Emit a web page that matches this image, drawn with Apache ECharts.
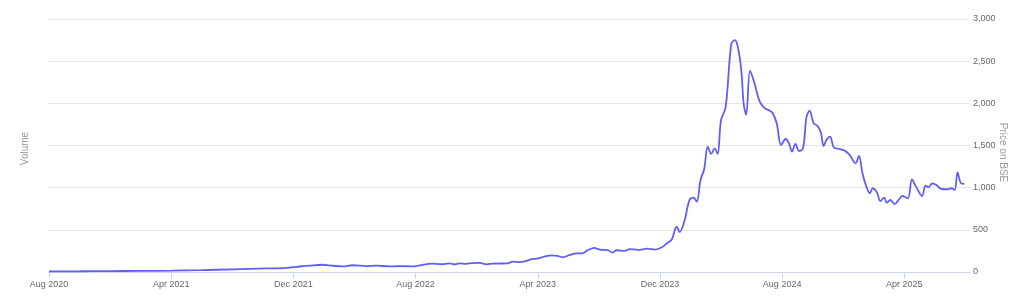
<!DOCTYPE html>
<html><head><meta charset="utf-8">
<script src="https://cdn.jsdelivr.net/npm/echarts@6/dist/echarts.min.js"></script>
<style>html,body{margin:0;padding:0;background:#fff}#c{width:1024px;height:299px}</style>
</head><body><div id="c"></div>
<script>
const dates = ["2020-08-01","2020-10-01","2020-12-01","2021-02-01","2021-04-01","2021-06-01","2021-08-01","2021-10-08","2021-11-18","2021-12-08",
"2022-01-03","2022-01-29","2022-02-18","2022-03-08","2022-03-28","2022-04-24","2022-05-15","2022-06-10","2022-07-06","2022-07-26",
"2022-08-09","2022-09-03","2022-09-22","2022-10-08","2022-10-18","2022-10-28","2022-11-11","2022-11-21","2022-12-07","2022-12-21",
"2023-01-03","2023-02-02","2023-02-11","2023-02-24","2023-03-08","2023-03-20","2023-03-30","2023-04-14","2023-04-28","2023-05-10",
"2023-05-20","2023-06-04","2023-06-17","2023-06-29","2023-07-09","2023-07-23","2023-08-03","2023-08-19","2023-08-29","2023-09-06",
"2023-09-22","2023-10-02","2023-10-18","2023-11-07","2023-11-21","2023-12-05","2023-12-15","2023-12-25","2024-01-04","2024-01-10",
"2024-01-20","2024-01-30","2024-02-07","2024-02-13","2024-02-20","2024-02-27","2024-03-05","2024-03-12","2024-03-19","2024-03-25",
"2024-04-01","2024-04-10","2024-04-21","2024-04-28","2024-05-04","2024-05-11","2024-05-16","2024-05-21","2024-05-29","2024-06-07",
"2024-06-17","2024-06-27","2024-07-07","2024-07-13","2024-07-21","2024-07-30","2024-08-08","2024-08-15","2024-08-21","2024-08-28",
"2024-09-04","2024-09-12","2024-09-19","2024-09-25","2024-10-03","2024-10-11","2024-10-18","2024-10-23","2024-10-29","2024-11-05",
"2024-11-13","2024-11-24","2024-12-04","2024-12-14","2024-12-26","2025-01-02","2025-01-09","2025-01-17","2025-01-24","2025-01-30",
"2025-02-07","2025-02-13","2025-02-20","2025-02-25","2025-03-04","2025-03-12","2025-03-22","2025-03-28","2025-04-08","2025-04-16",
"2025-04-24","2025-05-06","2025-05-13","2025-05-19","2025-05-27","2025-06-04","2025-06-14","2025-06-27","2025-07-03","2025-07-10",
"2025-07-16","2025-07-23","2025-07-30"];
const prices = [8,9,11,13,16,22,32,42,50,62,
76,86,74,66,80,70,76,66,70,66,
78,100,92,102,90,102,96,106,108,90,
100,102,124,118,130,152,158,182,198,192,
175,202,222,222,258,285,265,260,230,258,
250,272,262,277,266,293,340,385,537,474,
610,854,881,834,1091,1218,1486,1400,1467,1400,
1803,1953,2700,2750,2672,2396,1990,1866,2388,2230,
2020,1941,1913,1882,1763,1506,1577,1526,1427,1518,
1435,1467,1842,1913,1763,1732,1645,1494,1565,1605,
1474,1459,1439,1388,1289,1376,1170,1012,933,993,
941,842,881,822,854,806,866,901,874,1099,
1012,901,1024,1004,1052,1032,984,981,993,972,
1182,1052,1044];
const monthNames = ["Jan","Feb","Mar","Apr","May","Jun","Jul","Aug","Sep","Oct","Nov","Dec"];
const startYear = 2020, startMonth = 8;
const priceTicks = [0,500,1000,1500,2000,2500,3000];

function toMonths(s){
  const [y,m,d] = s.split("-").map(Number);
  const dim = new Date(y, m, 0).getDate();
  return (y-startYear)*12 + (m-startMonth) + (d-1)/dim;
}
function monthLabel(v){
  const idx = Math.round(v) + startMonth - 1;
  const y = startYear + Math.floor(idx/12);
  return monthNames[idx%12] + " " + y;
}
const seriesData = dates.map((d,i)=>[toMonths(d), prices[i]]);

const chart = echarts.init(document.getElementById('c'), null, {renderer:'canvas'});
const FF = '"Liberation Sans", Arial, sans-serif';
const lbl = {color:'#666', fontSize:9, fontFamily:FF};
chart.setOption({
  animation:false,
  grid:{left:49, right:54, top:19, bottom:27, containLabel:false, outerBoundsMode:'none'},
  xAxis:{type:'value', min:0, max:60.3, interval:8,
    axisLine:{show:true, lineStyle:{color:'#ccd6eb'}},
    axisTick:{show:true, length:6, lineStyle:{color:'#ccd6eb'}},
    splitLine:{show:false},
    axisLabel:Object.assign({margin:8, showMaxLabel:false, formatter:v=>monthLabel(v)}, lbl)},
  yAxis:[
    {type:'value', position:'right', min:priceTicks[0], max:priceTicks[priceTicks.length-1], interval:500,
     name:'Price on BSE', nameLocation:'middle', nameGap:28, nameRotate:-90, nameMoveOverlap:false,
     nameTextStyle:{color:'#999', fontSize:10, fontFamily:FF, padding:[0,0,0,14]},
     axisLine:{show:false}, axisTick:{show:false},
     splitLine:{lineStyle:{color:'#e6e6e6'}},
     axisLabel:Object.assign({margin:3, formatter:v=>v.toLocaleString('en-US')}, lbl)},
    {type:'value', position:'left', min:0, max:1,
     name:'Volume', nameLocation:'middle', nameGap:19, nameRotate:90, nameMoveOverlap:false,
     nameTextStyle:{color:'#999', fontSize:10, fontFamily:FF, padding:[0,6,0,0]},
     axisLine:{show:false}, axisTick:{show:false}, axisLabel:{show:false}, splitLine:{show:false}}
  ],
  series:[{type:'line', yAxisIndex:0, data:seriesData, smooth:0.35, showSymbol:false,
    lineStyle:{color:'#5f5ff8', width:1.8}}]
});
</script></body></html>
